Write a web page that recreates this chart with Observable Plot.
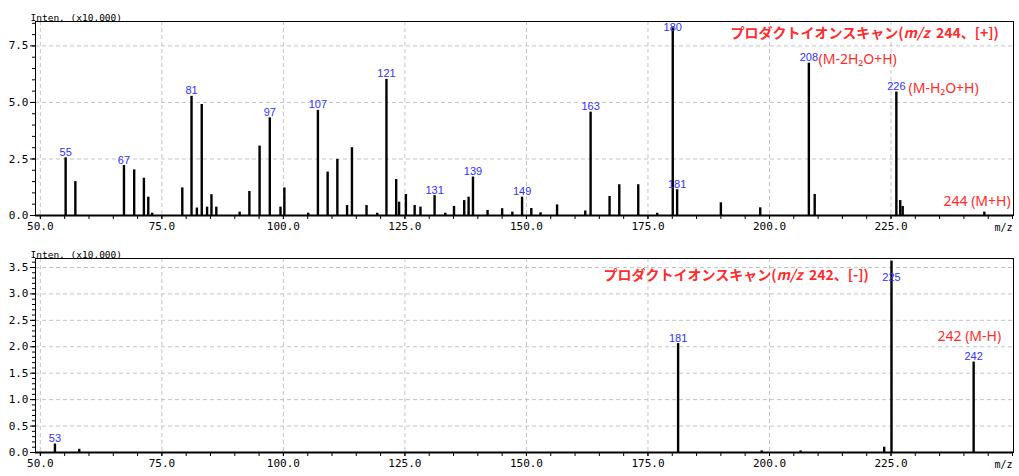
<!DOCTYPE html>
<html>
<head>
<meta charset="utf-8">
<script src="https://cdn.jsdelivr.net/npm/d3@7"></script>
<script src="https://cdn.jsdelivr.net/npm/@observablehq/plot@0.6"></script>
<style>
  html, body { margin: 0; padding: 0; background: white; }
  #chart svg { display: block; }
</style>
</head>
<body>
<div id="chart"></div>
<script>
// ---- Data: product ion scan, m/z 244 [+]
const posMz = [55.2,57.2,67.2,69.3,71.3,72.2,73.0,79.2,81.1,82.2,83.2,84.3,85.2,86.2,91.0,93.0,95.1,97.2,99.4,100.2,105.1,107.1,109.1,111.1,113.1,114.1,117.1,119.3,121.2,123.2,123.8,125.2,127.0,128.2,131.1,133.3,135.1,137.2,138.1,139.0,142.0,145.0,147.1,149.1,151.0,152.9,156.3,162.1,163.2,167.1,169.1,173.0,176.9,180.1,181.0,190.0,198.1,208.1,209.3,226.1,226.9,227.4,244.2];
const posInt = [2.55,1.5,2.21,2.02,1.65,0.81,0.1,1.22,5.27,0.33,4.91,0.37,0.92,0.37,0.15,1.06,3.07,4.32,0.37,1.22,0.1,4.65,1.92,2.48,0.44,3.0,0.44,0.1,6.02,1.59,0.59,0.93,0.44,0.37,0.88,0.1,0.4,0.66,0.81,1.7,0.22,0.3,0.15,0.81,0.31,0.12,0.47,0.2,4.57,0.84,1.36,1.36,0.1,8.3,1.14,0.56,0.34,6.74,0.93,5.46,0.66,0.4,0.15];
const posLabels = [55,67,81,97,107,121,131,139,149,163,180,181,208,226];

// ---- Data: product ion scan, m/z 242 [-]
const negMz = [53.0,58.0,181.2,198.4,206.4,223.6,225.1,242.0];
const negInt = [0.16,0.06,2.06,0.03,0.03,0.1,3.62,1.71];
const negLabels = [53,181,225,242];

// ---- Tick values
const xMajor = [50,75,100,125,150,175,200,225];
const xMinor = d3.range(50, 251, 5);
const posYMajor = [0,2.5,5.0,7.5];
const posYMinor = d3.range(0, 8.6, 0.5);
const negYMajor = [0,0.5,1.0,1.5,2.0,2.5,3.0,3.5];
const negYMinor = d3.range(0, 3.65, 0.1);

const titlePos = "プロダクトイオンスキャン(m/z  244、[+])";
const titleNeg = "プロダクトイオンスキャン(m/z  242、[-])";
const yUnit = "Inten. (x10,000)";

const MONO = "'DejaVu Sans Mono', monospace";
const BLUE = "#2f2fff";
const RED = "#ff2b2b";

function spectrum({mz, inten, labels, ymax, yMajor, yMinor, marginTop, marginBottom, extra}) {
  const peaks = mz.map((m, k) => ({mz: m, i: inten[k]}));
  const lab = peaks.filter(p => labels.includes(Math.round(p.mz))).map(p => ({...p, t: String(Math.round(p.mz))}));
  const labLow = lab.filter(p => p.i < 0.93 * ymax);
  const labHigh = lab.filter(p => p.i >= 0.93 * ymax);
  const grid = {stroke: "#c4c4c4", strokeOpacity: 1, strokeDasharray: "4,3"};
  return Plot.plot({
    width: 1019, height: 238,
    marginLeft: 35, marginRight: 6, marginTop, marginBottom,
    x: {domain: [49, 250.2]},
    y: {domain: [0, ymax]},
    style: {fontFamily: MONO, fontSize: "11px", background: "white", color: "black", overflow: "visible"},
    marks: [
      Plot.gridX({ticks: xMajor, ...grid}),
      Plot.gridY({ticks: yMajor.filter(v => v > 0), ...grid}),
      Plot.ruleX(peaks, {x: "mz", y1: 0, y2: "i", stroke: "black", strokeWidth: 2.4}),
      Plot.axisX({ticks: xMinor, tickSize: 4, tickFormat: () => "", label: null}),
      Plot.axisX({ticks: xMajor, tickSize: 4, tickPadding: 3, tickFormat: d => d.toFixed(1), label: null, fontFamily: MONO, fontSize: 11}),
      Plot.axisY({ticks: yMinor, tickSize: 3, tickFormat: () => "", label: null}),
      Plot.axisY({ticks: yMajor, tickSize: 5, tickPadding: 2, tickFormat: d => d.toFixed(1), label: null, fontFamily: MONO, fontSize: 11}),
      Plot.frame({stroke: "black", strokeWidth: 1}),
      Plot.ruleY([0], {stroke: "black", strokeWidth: 2}),
      Plot.text(labLow, {x: "mz", y: "i", text: "t", dy: -2, lineAnchor: "bottom", fill: BLUE, fontFamily: "'Liberation Sans', Arial, sans-serif", fontSize: 11}),
      Plot.text(labHigh, {x: "mz", text: "t", frameAnchor: "top", lineAnchor: "middle", dy: extra.highDy, fill: BLUE, fontFamily: "'Liberation Sans', Arial, sans-serif", fontSize: 11}),
      Plot.text([yUnit], {frameAnchor: "top-left", textAnchor: "start", lineAnchor: "bottom", dx: -5, dy: -1, fontFamily: MONO, fontSize: 9.5}),
      Plot.text(["m/z"], {frameAnchor: "bottom-right", textAnchor: "end", lineAnchor: "middle", dx: -1, dy: 12, fontFamily: MONO, fontSize: 10}),
      ...extra.marks
    ]
  });
}

const redFont = {fill: RED, fontFamily: "'Noto Sans', 'DejaVu Sans', sans-serif", fontSize: 14, lineAnchor: "middle"};
const titleFont = {fill: RED, fontWeight: "bold", fontFamily: "'Noto Sans CJK JP', sans-serif", fontSize: 14, textAnchor: "start", lineAnchor: "middle", frameAnchor: "top-left"};

const chartPos = spectrum({
  mz: posMz, inten: posInt, labels: posLabels, ymax: 8.58, yMajor: posYMajor, yMinor: posYMinor,
  marginTop: 21, marginBottom: 23,
  extra: {
    highDy: 6,
    marks: [
      Plot.text([titlePos], {...titleFont, dx: 695, dy: 12}),
      Plot.text(["(M-2H₂O+H)"], {frameAnchor: "top-left", textAnchor: "start", dx: 783, dy: 38, ...redFont}),
      Plot.text(["(M-H₂O+H)"], {frameAnchor: "top-left", textAnchor: "start", dx: 873, dy: 67, ...redFont}),
      Plot.text(["244 (M+H)"], {frameAnchor: "bottom-left", textAnchor: "start", dx: 908, dy: -14, ...redFont})
    ]
  }
});

const chartNeg = spectrum({
  mz: negMz, inten: negInt, labels: negLabels, ymax: 3.67, yMajor: negYMajor, yMinor: negYMinor,
  marginTop: 20, marginBottom: 24,
  extra: {
    highDy: 19,
    marks: [
      Plot.text([titleNeg], {...titleFont, dx: 568, dy: 17}),
      Plot.text(["242 (M-H)"], {frameAnchor: "top-left", textAnchor: "start", dx: 902, dy: 78, ...redFont})
    ]
  }
});

// italicize "m/z" inside the titles
for (const svg of [chartPos, chartNeg]) {
  svg.querySelectorAll("text").forEach(t => {
    const s = t.textContent;
    if (s.startsWith("プロダクト")) {
      const k = s.indexOf("m/z");
      const parts = [[s.slice(0, k), null], ["m/z", "italic"], [s.slice(k + 3), null]];
      t.textContent = "";
      for (const [str, style] of parts) {
        const ts = document.createElementNS("http://www.w3.org/2000/svg", "tspan");
        ts.textContent = str;
        if (style) ts.setAttribute("font-style", style);
        t.appendChild(ts);
      }
      t.setAttribute("xml:space", "preserve");
      t.style.whiteSpace = "pre";
    }
  });
}

document.getElementById("chart").append(chartPos, chartNeg);
</script>
</body>
</html>
